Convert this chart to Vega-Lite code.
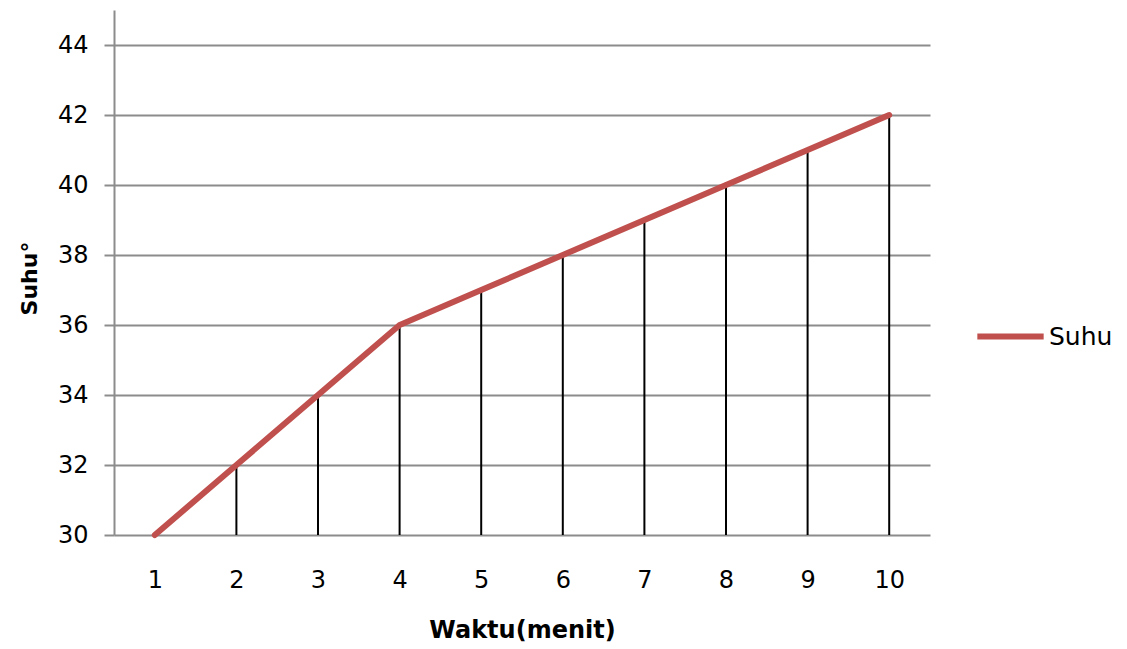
{
  "$schema": "https://vega.github.io/schema/vega-lite/v6.json",
  "width": 816,
  "height": 525,
  "autosize": {"type": "none"},
  "padding": {"left": 114, "top": 10, "right": 197, "bottom": 114},
  "background": "white",
  "config": {
    "view": {"stroke": null},
    "font": "DejaVu Sans"
  },
  "data": {
    "values": [
      {"waktu": 1, "suhu": 30, "series": "Suhu"},
      {"waktu": 2, "suhu": 32, "series": "Suhu"},
      {"waktu": 3, "suhu": 34, "series": "Suhu"},
      {"waktu": 4, "suhu": 36, "series": "Suhu"},
      {"waktu": 5, "suhu": 37, "series": "Suhu"},
      {"waktu": 6, "suhu": 38, "series": "Suhu"},
      {"waktu": 7, "suhu": 39, "series": "Suhu"},
      {"waktu": 8, "suhu": 40, "series": "Suhu"},
      {"waktu": 9, "suhu": 41, "series": "Suhu"},
      {"waktu": 10, "suhu": 42, "series": "Suhu"}
    ]
  },
  "encoding": {
    "x": {
      "field": "waktu",
      "type": "ordinal",
      "scale": {"type": "point", "padding": 0.5},
      "axis": {
        "title": "Waktu(menit)",
        "titleFontSize": 24,
        "titleFontWeight": "bold",
        "titleColor": "#000000",
        "titlePadding": 26,
        "labelAngle": 0,
        "labelFontSize": 24,
        "labelColor": "#000000",
        "labelPadding": 33,
        "ticks": false,
        "domain": false,
        "grid": false
      }
    },
    "y": {
      "field": "suhu",
      "type": "quantitative",
      "scale": {"domain": [30, 45], "nice": false, "zero": false},
      "axis": {
        "title": "Suhu°",
        "titleFontSize": 22,
        "titleFontWeight": "bold",
        "titleColor": "#000000",
        "titlePadding": 16,
        "titleY": 268,
        "values": [30, 32, 34, 36, 38, 40, 42, 44],
        "labelFontSize": 24,
        "labelColor": "#000000",
        "labelPadding": 16,
        "tickSize": 10,
        "tickColor": "#8c8c8c",
        "tickWidth": 2,
        "domainColor": "#8c8c8c",
        "domainWidth": 2,
        "grid": true,
        "gridColor": "#8c8c8c",
        "gridWidth": 2
      }
    }
  },
  "layer": [
    {
      "mark": {"type": "rule", "color": "#000000", "strokeWidth": 2},
      "encoding": {
        "y2": {"datum": 30}
      }
    },
    {
      "mark": {"type": "line", "strokeWidth": 6, "strokeCap": "round"},
      "encoding": {
        "color": {
          "field": "series",
          "type": "nominal",
          "scale": {"range": ["#C0504D"]},
          "legend": {
            "title": null,
            "orient": "none",
            "legendX": 860,
            "legendY": 290,
            "symbolType": "stroke",
            "symbolSize": 4400,
            "symbolStrokeWidth": 6,
            "labelFontSize": 25,
            "labelColor": "#000000",
            "labelOffset": 2
          }
        }
      }
    }
  ]
}
